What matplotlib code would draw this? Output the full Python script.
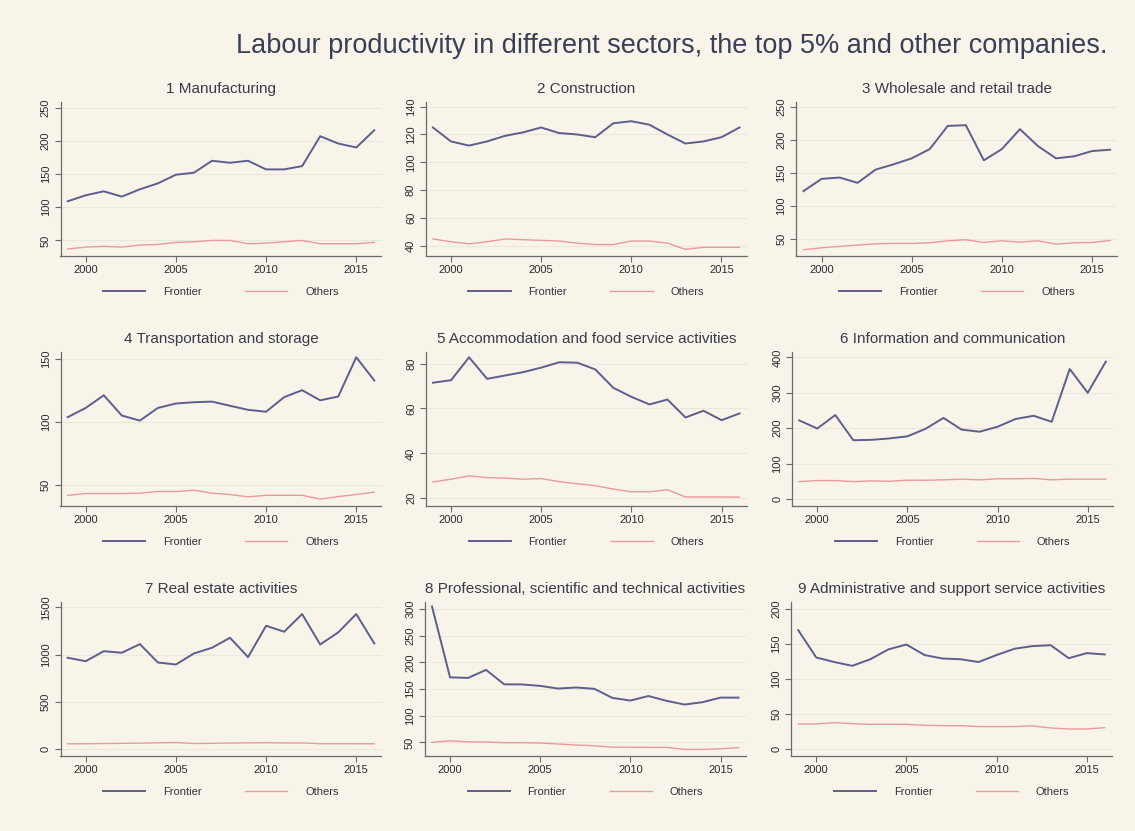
import matplotlib
matplotlib.use("Agg")
import matplotlib.pyplot as plt

plt.rcParams['font.family'] = ['Liberation Sans', 'DejaVu Sans']

years = list(range(1999, 2017))

titles = [
    "1 Manufacturing",
    "2 Construction",
    "3 Wholesale and retail trade",
    "4 Transportation and storage",
    "5 Accommodation and food service activities",
    "6 Information and communication",
    "7 Real estate activities",
    "8 Professional, scientific and technical activities",
    "9 Administrative and support service activities",
]

frontier_1 = [109, 118, 124, 116, 127, 136, 149, 152, 170, 167, 170, 157, 157, 162, 207, 196, 190, 216]
others_1 = [37, 40, 41, 40, 43, 44, 47, 48, 50, 50, 45, 46, 48, 50, 45, 45, 45, 47]
frontier_2 = [125, 115, 112, 115, 119, 121.5, 125, 121, 120, 118, 128, 129.5, 127, 120, 113.5, 115, 118, 125]
others_2 = [45, 43, 41.5, 43, 45, 44.5, 44, 43.5, 42, 41, 41, 43.5, 43.5, 42, 37.6, 39, 39, 39]
frontier_3 = [122.5, 141, 143, 135, 155, 163, 172, 186, 221, 222, 169, 186, 216, 190.5, 172, 175, 183, 185]
others_3 = [34, 37, 39, 41, 43, 43.5, 43.5, 44.5, 47.5, 49, 45, 47.5, 45.5, 47.5, 42.5, 44.5, 45, 48]
frontier_4 = [103.7, 111, 121, 105, 101, 111, 114.5, 115.5, 116, 112.7, 109.5, 108, 119.5, 125, 117, 120, 151, 132.7]
others_4 = [42, 43.4, 43.4, 43.4, 43.7, 45, 45, 46, 43.7, 42.6, 40.8, 42, 42, 42, 39, 41, 42.6, 44.5]
frontier_5 = [71.5, 72.6, 82.8, 73.2, 74.7, 76.2, 78.2, 80.6, 80.4, 77.4, 69.2, 65.2, 61.8, 64, 56, 59, 54.8, 57.8]
others_5 = [27.3, 28.5, 30, 29.2, 29, 28.5, 28.8, 27.4, 26.5, 25.6, 24.1, 22.9, 22.9, 23.8, 20.6, 20.6, 20.6, 20.5]
frontier_6 = [222, 199, 237, 166, 167, 171, 177, 198, 229, 196, 190, 204, 226, 235, 218, 367, 300, 388]
others_6 = [49, 52, 52, 49, 51, 50, 53, 53, 54, 56, 54, 57, 57, 58, 54, 56, 56, 56]
frontier_7 = [966, 930, 1036, 1019, 1111, 916, 895, 1012, 1072, 1178, 973, 1305, 1242, 1429, 1107, 1235, 1429, 1118]
others_7 = [55, 56, 58, 60, 62, 66, 68, 58, 60, 63, 65, 66, 64, 64, 56, 56, 56, 55]
frontier_8 = [305, 172, 171, 186, 159, 158.7, 156, 151, 153, 150.5, 133.5, 128.5, 137, 128, 121, 125.4, 134, 134]
others_8 = [50, 53, 51, 50.6, 49.4, 49.4, 48.7, 47, 45, 43.7, 41, 41, 40.6, 40.6, 36.8, 36.8, 38, 40]
frontier_9 = [169.5, 130.5, 124, 118.6, 128, 142, 149, 134, 129, 128, 124, 134, 143, 146.7, 148, 129.5, 136.7, 134.8]
others_9 = [35.7, 35.7, 37.6, 36.2, 35.2, 35.2, 35.2, 33.8, 33.3, 33.3, 32, 32, 32, 33, 30, 28.6, 28.6, 30.5]

frontier = [frontier_1, frontier_2, frontier_3, frontier_4, frontier_5,
            frontier_6, frontier_7, frontier_8, frontier_9]
others = [others_1, others_2, others_3, others_4, others_5,
          others_6, others_7, others_8, others_9]

yticks = [
    [50, 100, 150, 200, 250],
    [40, 60, 80, 100, 120, 140],
    [50, 100, 150, 200, 250],
    [50, 100, 150],
    [20, 40, 60, 80],
    [0, 100, 200, 300, 400],
    [0, 500, 1000, 1500],
    [50, 100, 150, 200, 250, 300],
    [0, 50, 100, 150, 200],
]
ylims = [(27, 259), (33, 143.5), (25, 257.5), (33.8, 155.4), (16.7, 85.3),
         (-19, 416), (-71, 1560), (25, 314), (-9.5, 210)]
xticks = [2000, 2005, 2010, 2015]

BG = '#f8f4ea'
FRONT = '#5c5f8c'
OTH = '#e99a9c'
TXT = '#333340'

W, H = 1135, 831
fig = plt.figure(figsize=(W / 100, H / 100), dpi=100, facecolor=BG)

lefts = [[60.5, 425.7, 796.3], [60.5, 425.8, 792.0], [60.5, 424.8, 791.0]]
tops = [101.7, 351.7, 601.7]
aw, ah = 321, 154

fig.text(672, H - 46, "Labour productivity in different sectors, the top 5% and other companies.",
         transform=None, ha='center', va='center', fontsize=19.5, color='#3a3f58')

for i in range(9):
    r, c = divmod(i, 3)
    l = lefts[r][c]
    t = tops[r]
    ax = fig.add_axes([l / W, 1 - (t + ah) / H, aw / W, ah / H])
    ax.set_facecolor(BG)
    ax.plot(years, frontier[i], color=FRONT, lw=1.4, label='Frontier')
    ax.plot(years, others[i], color=OTH, lw=1.0, label='Others')
    ax.set_xlim(1998.6, 2016.4)
    ax.set_ylim(*ylims[i])
    ax.set_yticks(yticks[i])
    ax.set_xticks(xticks)
    ax.grid(axis='y', color='#ebe7dd', lw=0.8)
    ax.set_axisbelow(True)
    for s in ['top', 'right']:
        ax.spines[s].set_visible(False)
    for s in ['left', 'bottom']:
        ax.spines[s].set_color('#6a6a6a')
        ax.spines[s].set_linewidth(0.9)
    ax.tick_params(axis='both', length=4, width=0.8, color='#6a6a6a',
                   labelsize=8, labelcolor='#2a2a30', pad=3)
    ax.tick_params(axis='y', labelrotation=90)
    for lab in ax.get_yticklabels():
        lab.set_va('center')
    ax.set_title(titles[i], fontsize=11, color='#3a3a4c', pad=6)
    leg = ax.legend(loc='center', bbox_to_anchor=(0.5, -36 / ah), ncol=2,
                    frameon=False, fontsize=8, handlelength=3.8,
                    handletextpad=1.6, columnspacing=3.9)
    for txt in leg.get_texts():
        txt.set_color(TXT)

fig.savefig('out.png', dpi=100, facecolor=BG)
